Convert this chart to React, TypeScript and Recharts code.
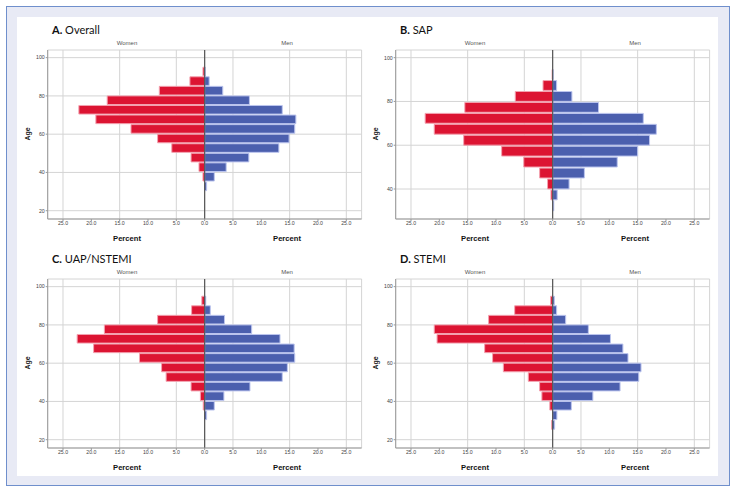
import { Bar, BarChart, CartesianGrid, ReferenceLine, XAxis, YAxis } from "recharts";

// age bins (start of each 5-year bin), listed top to bottom
const agesFull = [95, 90, 85, 80, 75, 70, 65, 60, 55, 50, 45, 40, 35, 30, 25, 20];
const agesSap = [95, 90, 85, 80, 75, 70, 65, 60, 55, 50, 45, 40, 35, 30];

const overallWomen = [0, 0.3, 2.6, 8.0, 17.2, 22.2, 19.2, 13.0, 8.3, 5.8, 2.4, 1.0, 0.3, 0, 0, 0];
const overallMen = [0, 0.15, 0.8, 3.2, 7.9, 13.7, 16.1, 15.9, 14.9, 13.1, 7.8, 3.8, 1.7, 0.35, 0, 0];

const sapWomen = [0, 0.1, 1.7, 6.6, 15.5, 22.5, 20.9, 15.7, 9.0, 5.1, 2.3, 0.9, 0.3, 0];
const sapMen = [0, 0.1, 0.7, 3.4, 8.1, 16.0, 18.3, 17.1, 15.0, 11.4, 5.6, 2.9, 0.8, 0.2];

const uapWomen = [0, 0.5, 2.3, 8.3, 17.7, 22.5, 19.6, 11.5, 7.6, 6.8, 2.4, 0.75, 0.25, 0, 0, 0];
const uapMen = [0, 0.2, 1.0, 3.5, 8.3, 13.3, 15.8, 15.9, 14.6, 13.7, 8.0, 3.4, 1.7, 0.35, 0, 0];

const stemiWomen = [0, 0.35, 6.7, 11.3, 20.9, 20.4, 12.0, 10.6, 8.7, 4.3, 2.3, 1.9, 0.5, 0, 0.2, 0];
const stemiMen = [0, 0.3, 0.7, 2.3, 6.3, 10.2, 12.4, 13.3, 15.6, 15.2, 11.9, 7.1, 3.3, 0.75, 0.35, 0];

const xTicks = [-25, -20, -15, -10, -5, 0, 5, 10, 15, 20, 25];
const yTicksFull = [20, 40, 60, 80, 100];
const yTicksSap = [40, 60, 80, 100];

const RED = "#dc1432";
const BLUE = "#4b5fae";
const PLOT_H = 169;

const label = (x: number, y: number, s: string, style: any = {}) => (
  <div
    style={{
      position: "absolute",
      left: x,
      top: y,
      transform: "translate(-50%,-50%)",
      whiteSpace: "nowrap",
      fontFamily: "'Liberation Sans', Arial, sans-serif",
      ...style,
    }}
  >
    {s}
  </div>
);

interface PanelProps {
  letter: string;
  name: string;
  ages: number[];
  women: number[];
  men: number[];
  yTicks: number[];
  yDomain: [number, number];
  dx: number;
  dy: number;
}

const Panel = (p: PanelProps) => {
  // bars sit on the bin middle of a numeric age axis
  const data = p.ages.map((a, i) => ({ mid: a + 2.5, women: -p.women[i], men: p.men[i] }));
  const barSize = (5 * PLOT_H) / (p.yDomain[1] - p.yDomain[0]);
  const tick = { fontSize: 5.2, fill: "#444", fontFamily: "'Liberation Sans', Arial, sans-serif" };
  return (
    <>
      <div
        style={{
          position: "absolute",
          left: 52 + p.dx,
          top: 29 + p.dy,
          transform: "translateY(-50%)",
          fontFamily: "Lato, 'Open Sans', sans-serif",
          fontSize: 11,
          color: "#111",
          whiteSpace: "nowrap",
        }}
      >
        <b>{p.letter}</b> {p.name}
      </div>
      {label(127 + p.dx, 43.3 + p.dy, "Women", { fontSize: 6, color: "#555" })}
      {label(287 + p.dx, 43.3 + p.dy, "Men", { fontSize: 6, color: "#555" })}
      {label(127 + p.dx, 238 + p.dy, "Percent", { fontSize: 7.6, fontWeight: "bold", color: "#111" })}
      {label(287 + p.dx, 238 + p.dy, "Percent", { fontSize: 7.6, fontWeight: "bold", color: "#111" })}
      {label(27 + p.dx, 134 + p.dy, "Age", {
        fontSize: 7,
        fontWeight: "bold",
        color: "#111",
        transform: "translate(-50%,-50%) rotate(-90deg)",
      })}
      <div style={{ position: "absolute", left: p.dx, top: p.dy }}>
        <BarChart
          width={368}
          height={240}
          data={data}
          layout="vertical"
          stackOffset="sign"
          barCategoryGap={0}
          margin={{ top: 50, right: 6.4, bottom: 11, left: 33.7 }}
        >
          <CartesianGrid stroke="#d4d4d4" />
          <XAxis
            type="number"
            domain={[-27.7, 27.7]}
            ticks={xTicks}
            allowDataOverflow
            tickFormatter={(v: number) => Math.abs(v).toFixed(1)}
            tick={tick}
            tickSize={2}
            tickMargin={0}
            height={10}
            stroke="#999"
          />
          <YAxis
            type="number"
            dataKey="mid"
            domain={p.yDomain}
            ticks={p.yTicks}
            allowDataOverflow
            reversed
            tick={tick}
            tickSize={2}
            tickMargin={1}
            width={14}
            stroke="#999"
          />
          <Bar dataKey="women" stackId="a" barSize={barSize} fill={RED} stroke="#f3a2b0" strokeWidth={1} isAnimationActive={false} />
          <Bar dataKey="men" stackId="a" barSize={barSize} fill={BLUE} stroke="#bcc5ee" strokeWidth={1} isAnimationActive={false} />
          <ReferenceLine x={0} stroke="#555" strokeWidth={1.2} />
        </BarChart>
      </div>
    </>
  );
};

export default function App() {
  return (
    <div style={{ position: "absolute", left: 0, top: 0, width: 736, height: 494, background: "#fff" }}>
      <div
        style={{
          position: "absolute",
          left: 6,
          top: 6,
          width: 724,
          height: 480,
          boxSizing: "border-box",
          border: "1.5px solid #6f8fcc",
          background: "#e8eaf5",
        }}
      />
      <div style={{ position: "absolute", left: 17, top: 17, width: 701, height: 459, background: "#fff" }} />
      <Panel letter="A." name="Overall" ages={agesFull} women={overallWomen} men={overallMen} yTicks={yTicksFull} yDomain={[15.66, 104]} dx={0} dy={0} />
      <Panel letter="B." name="SAP" ages={agesSap} women={sapWomen} men={sapMen} yTicks={yTicksSap} yDomain={[26.3, 103.5]} dx={348} dy={0} />
      <Panel letter="C." name="UAP/NSTEMI" ages={agesFull} women={uapWomen} men={uapMen} yTicks={yTicksFull} yDomain={[15.66, 104]} dx={0} dy={228.7} />
      <Panel letter="D." name="STEMI" ages={agesFull} women={stemiWomen} men={stemiMen} yTicks={yTicksFull} yDomain={[15.66, 104]} dx={348} dy={228.7} />
    </div>
  );
}
